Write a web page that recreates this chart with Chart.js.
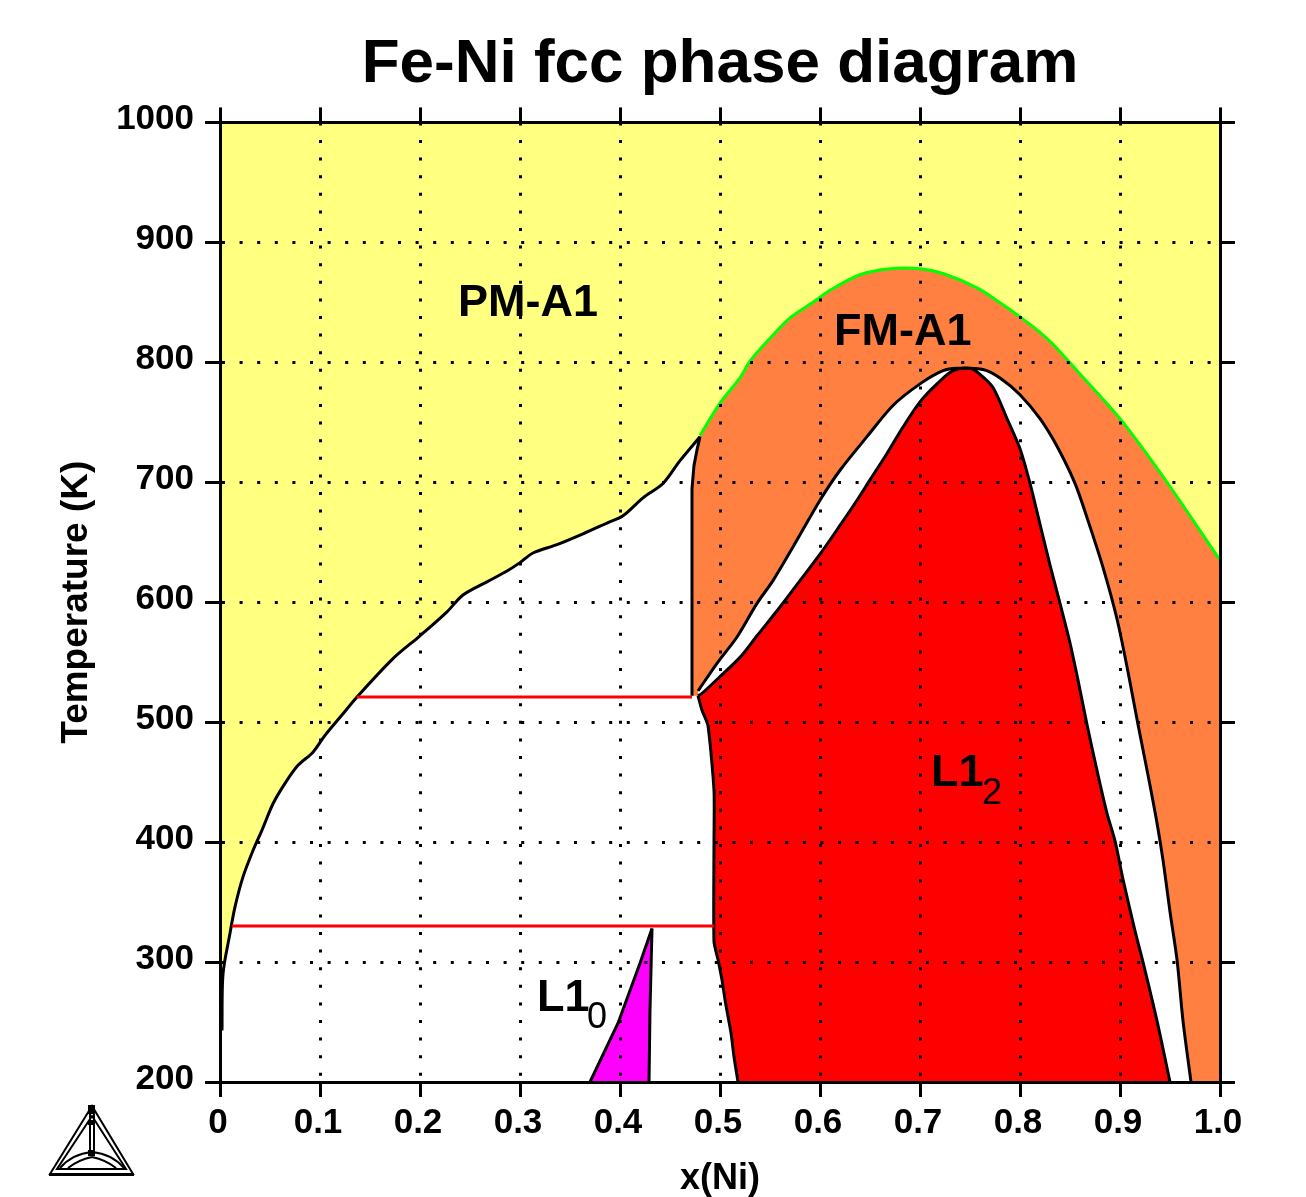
<!DOCTYPE html>
<html>
<head>
<meta charset="utf-8">
<title>Fe-Ni fcc phase diagram</title>
<script src="https://cdn.jsdelivr.net/npm/chart.js@4/dist/chart.umd.min.js"></script>
<style>
  body { margin: 0; background: #fff; }
  canvas { display: block; }
</style>
</head>
<body>
<canvas id="myChart" width="1306" height="1197"></canvas>
<script>
"use strict";

// tick labels
const xTickLabels = ['0', '0.1', '0.2', '0.3', '0.4', '0.5', '0.6', '0.7', '0.8', '0.9', '1.0'];
const yTickLabels = ['200', '300', '400', '500', '600', '700', '800', '900', '1000'];

// phase boundaries, each point is [x(Ni), T in K]
const pmBoundary = [[0.002, 243], [0.003, 290], [0.010, 324], [0.015, 346], [0.023, 371], [0.033, 393],
  [0.042, 410], [0.053, 432], [0.065, 449], [0.078, 464], [0.093, 475], [0.105, 489], [0.123, 507], [0.137, 521],
  [0.173, 553], [0.200, 572], [0.227, 592], [0.243, 606], [0.267, 617], [0.287, 626], [0.300, 633], [0.313, 641],
  [0.337, 648], [0.363, 657], [0.387, 666], [0.403, 672], [0.423, 687], [0.443, 699], [0.460, 718], [0.480, 738]];
const fmLeftBoundary = [[0.480, 738], [0.477, 727], [0.474, 714], [0.472, 695], [0.472, 522]];
const curieLine = [[0.480, 739], [0.500, 766], [0.520, 787], [0.530, 801], [0.550, 820], [0.570, 837], [0.593, 850],
  [0.610, 860], [0.640, 873], [0.670, 878], [0.700, 878], [0.723, 874], [0.757, 862], [0.783, 848], [0.803, 836],
  [0.820, 825], [0.833, 815], [0.857, 793], [0.900, 753], [0.947, 700], [1.000, 635]];
const gapOuter = [[0.478, 526], [0.497, 549], [0.517, 571], [0.537, 599], [0.553, 618], [0.573, 646], [0.600, 685],
  [0.620, 710], [0.647, 738], [0.673, 764], [0.700, 782], [0.723, 793], [0.737, 795], [0.763, 794], [0.780, 787],
  [0.800, 773], [0.820, 753], [0.837, 730], [0.855, 699], [0.868, 668], [0.883, 629], [0.897, 586], [0.908, 542],
  [0.918, 498], [0.928, 456], [0.937, 416], [0.943, 385], [0.950, 342], [0.957, 302], [0.963, 251], [0.971, 200]];
const l12Upper = [[0.478, 522], [0.482, 524], [0.500, 538], [0.520, 554], [0.537, 572], [0.560, 596], [0.580, 618],
  [0.600, 640], [0.620, 664], [0.637, 685], [0.650, 702], [0.667, 724], [0.683, 746], [0.700, 767], [0.717, 782],
  [0.733, 793], [0.750, 795], [0.760, 790], [0.773, 779], [0.787, 753], [0.800, 728], [0.810, 699], [0.820, 665],
  [0.830, 631], [0.840, 599], [0.850, 566], [0.858, 535], [0.867, 498], [0.878, 456], [0.887, 424], [0.895, 401],
  [0.903, 369], [0.915, 326], [0.923, 300], [0.937, 251], [0.950, 200]];
const l12Left = [[0.518, 200], [0.514, 221], [0.511, 241], [0.5055, 266], [0.502, 285], [0.498, 302], [0.494, 317],
  [0.494, 400], [0.494, 443], [0.488, 497], [0.482, 510], [0.478, 522]];
const l10Left = [[0.370, 200], [0.398, 249], [0.420, 299], [0.432, 328]];
const l10Right = [[0.432, 328], [0.430, 260], [0.429, 200]];

// red tie lines
const tieLineUpper = [[0.137, 521], [0.472, 521]];
const tieLineLower = [[0.012, 330], [0.494, 330]];

// plot corners and the phase labels
const xRange = [0, 1];
const yRange = [200, 1000];
const phaseLabels = [
  { text: 'PM-A1', x: 0.238, y: 839 },
  { text: 'FM-A1', x: 0.614, y: 814.5 },
  { text: 'L1', x: 0.711, y: 447, sub: '2', subX: 0.762, subY: 432 },
  { text: 'L1', x: 0.317, y: 259, sub: '0', subX: 0.367, subY: 245 }
];

function toPoints(list) {
  return list.map(function (p) { return { x: p[0], y: p[1] }; });
}

// filled polygon, no outline
function region(label, points, color) {
  return { label: label, data: toPoints(points), showLine: true, fill: 'shape', backgroundColor: color,
    borderWidth: 0, borderColor: color, pointRadius: 0, tension: 0 };
}

// boundary line, no fill
function boundary(label, points, color, width, tension) {
  return { label: label, data: toPoints(points), showLine: true, fill: false, borderColor: color,
    borderWidth: width, pointRadius: 0, tension: tension };
}

const plotRect = [[xRange[0], yRange[0]], [xRange[1], yRange[0]], [xRange[1], yRange[1]], [xRange[0], yRange[1]]];
const fmPolygon = curieLine.concat([[xRange[1], yRange[0]], [0.472, yRange[0]]], fmLeftBoundary.slice(0, 4).reverse());
const whiteLeft = [[xRange[0], yRange[0]]].concat(pmBoundary, fmLeftBoundary.slice(1), l12Left.slice().reverse());
const whiteGap = gapOuter.concat(l12Left, [[0.478, 526]]);
const l12Polygon = l12Left.concat(l12Upper);
const l10Polygon = l10Left.concat(l10Right.slice(1));

// draws the phase names over the finished plot
const phaseLabelPlugin = {
  id: 'phaseLabels',
  afterDraw: function (chart) {
    const c = chart.ctx;
    const sx = chart.scales.x;
    const sy = chart.scales.y;
    c.save();
    c.fillStyle = '#000';
    c.textBaseline = 'alphabetic';
    phaseLabels.forEach(function (l) {
      c.font = 'bold 45px "Liberation Sans"';
      c.fillText(l.text, sx.getPixelForValue(l.x), sy.getPixelForValue(l.y));
      if (l.sub) {
        c.font = '36px "Liberation Sans"';
        c.fillText(l.sub, sx.getPixelForValue(l.subX), sy.getPixelForValue(l.subY));
      }
    });
    c.restore();
  }
};

// the little triangle logo in the corner
const logoPlugin = {
  id: 'logo',
  afterDraw: function (chart) {
    const c = chart.ctx;
    c.save();
    c.strokeStyle = '#000';
    c.fillStyle = '#000';
    c.lineWidth = 2;
    function tri(ax, ay, bx, by, cx, cy) {
      c.beginPath();
      c.moveTo(ax, ay);
      c.lineTo(bx, by);
      c.lineTo(cx, cy);
      c.closePath();
      c.stroke();
    }
    tri(92, 1106, 50, 1174, 133, 1174);
    tri(92, 1116, 57, 1169, 126, 1169);
    c.beginPath();
    c.moveTo(90, 1112); c.lineTo(90, 1153);
    c.moveTo(94, 1112); c.lineTo(94, 1153);
    c.moveTo(60, 1168); c.quadraticCurveTo(72, 1154, 92, 1152);
    c.moveTo(124, 1168); c.quadraticCurveTo(112, 1154, 92, 1152);
    c.moveTo(68, 1168); c.quadraticCurveTo(78, 1160, 92, 1157);
    c.moveTo(116, 1168); c.quadraticCurveTo(106, 1160, 92, 1157);
    c.stroke();
    c.fillRect(88, 1105, 7, 9);
    c.fillRect(88, 1120, 7, 5);
    c.fillRect(88, 1150, 7, 6);
    c.fillRect(49, 1173, 85, 3);
    c.restore();
  }
};

function fixSize(size) {
  return function (scale) {
    if (scale.isHorizontal()) {
      scale.height = size;
    } else {
      scale.width = size;
    }
  };
}

const tickFont = { family: '"Liberation Sans"', size: 35, weight: 'bold' };
const gridStyle = { z: 1, color: '#000', lineWidth: 3, tickLength: 15, tickColor: '#000', tickWidth: 3 };
const borderStyle = { color: '#000', width: 3, z: 2, dash: [3, 14.6] };

const ctx = document.getElementById('myChart').getContext('2d');

const chart = new Chart(ctx, {
  type: 'scatter',
  data: {
    datasets: [
      // top layers first
      boundary('Upper tie line', tieLineUpper, '#ff0000', 3, 0),
      boundary('Lower tie line', tieLineLower, '#ff0000', 3, 0),
      boundary('Curie line', curieLine, '#00ff00', 3, 0.3),
      boundary('PM boundary', pmBoundary, '#000', 3, 0.3),
      boundary('FM left', fmLeftBoundary, '#000', 3, 0),
      boundary('Gap outer', gapOuter, '#000', 3, 0.3),
      boundary('L12 upper', l12Upper, '#000', 3, 0.3),
      boundary('L12 left', l12Left, '#000', 3, 0.2),
      boundary('L10 left', l10Left, '#000', 3, 0),
      boundary('L10 right', l10Right, '#000', 3, 0),
      region('L1_0', l10Polygon, '#ff00ff'),
      region('L1_2', l12Polygon, '#ff0000'),
      region('Gap', whiteGap, '#ffffff'),
      region('PM+L', whiteLeft, '#ffffff'),
      region('FM-A1', fmPolygon, '#ff8040'),
      region('PM-A1', plotRect, '#ffff80')
    ]
  },
  options: {
    responsive: false,
    animation: false,
    layout: { padding: 0 },
    plugins: {
      legend: { display: false },
      tooltip: { enabled: false },
      title: {
        display: true,
        text: 'Fe-Ni fcc phase diagram',
        fullSize: false,
        color: '#000',
        font: { family: '"Liberation Sans"', size: 62, weight: 'bold', lineHeight: 1.2 },
        padding: { top: 28, bottom: 4 }
      }
    },
    scales: {
      x: {
        type: 'linear',
        position: 'bottom',
        min: xRange[0],
        max: xRange[1],
        afterFit: fixSize(115),
        grid: gridStyle,
        border: borderStyle,
        ticks: {
          stepSize: 0.1,
          color: '#000',
          font: tickFont,
          padding: 5,
          maxRotation: 0,
          labelOffset: -2,
          callback: function (v, i) { return xTickLabels[i]; }
        },
        title: {
          display: true,
          text: 'x(Ni)',
          color: '#000',
          font: { family: '"Liberation Sans"', size: 36, weight: 'bold', lineHeight: 1 },
          padding: { top: 0, bottom: 0 }
        }
      },
      y: {
        type: 'linear',
        position: 'left',
        min: yRange[0],
        max: yRange[1],
        afterFit: fixSize(220),
        grid: gridStyle,
        border: borderStyle,
        ticks: {
          stepSize: 100,
          color: '#000',
          font: tickFont,
          padding: 11,
          labelOffset: -3,
          callback: function (v, i) { return yTickLabels[i]; }
        },
        title: {
          display: true,
          text: 'Temperature (K)',
          color: '#000',
          font: { family: '"Liberation Sans"', size: 37, weight: 'bold', lineHeight: 1.2 },
          padding: { top: 55, bottom: 0 }
        }
      },
      // mirror axes, only the outer ticks and the frame
      x2: {
        type: 'linear',
        position: 'top',
        min: xRange[0],
        max: xRange[1],
        afterFit: fixSize(16),
        grid: { drawOnChartArea: false, color: '#000', tickLength: 15, tickColor: '#000', tickWidth: 3, z: 1 },
        border: { color: '#000', width: 3, z: 2 },
        ticks: { stepSize: 0.1, display: false }
      },
      y2: {
        type: 'linear',
        position: 'right',
        min: yRange[0],
        max: yRange[1],
        afterFit: fixSize(86),
        grid: { drawOnChartArea: false, color: '#000', tickLength: 15, tickColor: '#000', tickWidth: 3, z: 1 },
        border: { color: '#000', width: 3, z: 2 },
        ticks: { stepSize: 100, display: false }
      }
    }
  },
  plugins: [phaseLabelPlugin, logoPlugin]
});
</script>
</body>
</html>
